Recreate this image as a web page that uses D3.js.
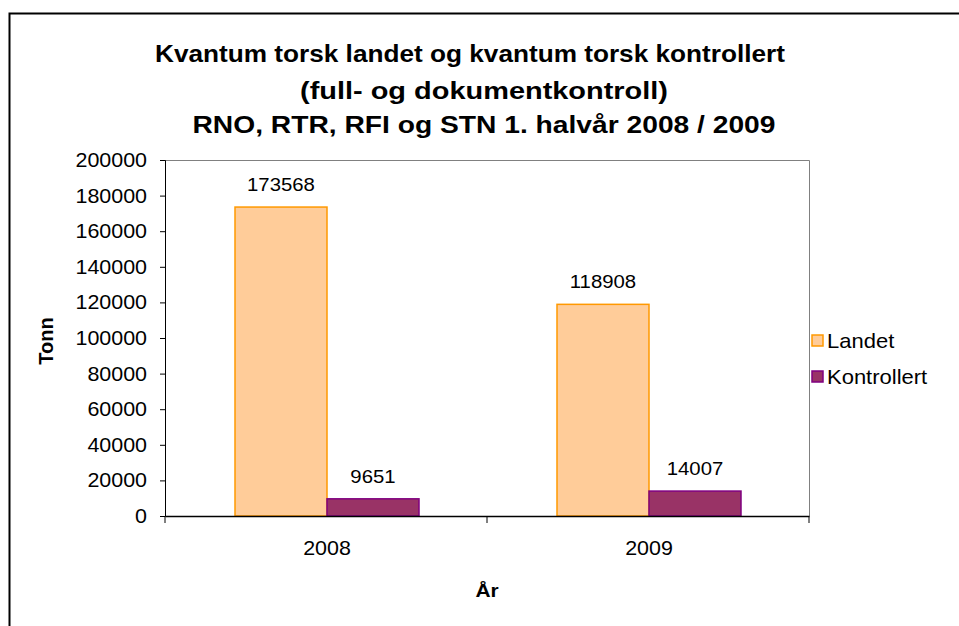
<!DOCTYPE html>
<html><head><meta charset="utf-8">
<script src="https://cdn.jsdelivr.net/npm/d3@7"></script>
<style>body{margin:0;background:#fff}svg{display:block;font-family:Arial,"Liberation Sans",sans-serif}</style>
</head><body><svg id="c" width="959" height="626"></svg>
<script>
const categories = ["2008", "2009"];
const seriesNames = ["Landet", "Kontrollert"];
const landet = [173568, 118908];
const kontrollert = [9651, 14007];
const yTicks = [0, 20000, 40000, 60000, 80000, 100000, 120000, 140000, 160000, 180000, 200000];
const titleLines = ["Kvantum torsk landet og kvantum torsk kontrollert", "(full- og dokumentkontroll)", "RNO, RTR, RFI og STN 1. halvår 2008 / 2009"];
const fills = ["#FFCC99", "#993366"];
const strokes = ["#FF9900", "#800080"];

const SX = 1.1;
function stretch(sel) {
  sel.each(function() {
    const t = d3.select(this);
    const xv = +(t.attr("x") || 0);
    t.attr("x", xv / SX).attr("transform", `scale(${SX},1)`);
  });
}

const svg = d3.select("#c");
svg.append("path").attr("d", "M9.5,626 V13.5 H959").attr("fill", "none").attr("stroke", "#000").attr("stroke-width", 2);

const L = 165, R = 809, T = 160, B = 516;
const x = d3.scaleBand().domain(categories).range([L, R]);
const y = d3.scaleLinear().domain([0, 200000]).range([B, T]);

svg.append("path").attr("d", `M${L},${T}.5 H${R}.5 V${B}`).attr("fill", "none").attr("stroke", "#808080").attr("stroke-width", 1);

const barW = 92;
const data = categories.map((c, i) => ({c, vals: [landet[i], kontrollert[i]]}));
const labels = svg.append("g");
data.forEach(d => {
  const cx = x(d.c) + x.bandwidth() / 2 + 1;
  d.vals.forEach((v, s) => {
    const x0 = cx - barW + s * barW;
    svg.append("rect").attr("x", x0).attr("y", y(v)).attr("width", barW).attr("height", B - y(v))
      .attr("fill", fills[s]).attr("stroke", strokes[s]).attr("stroke-width", 1.5);
    labels.append("text").attr("x", x0 + barW / 2).attr("y", y(v) - 16).attr("text-anchor", "middle")
      .attr("font-size", 18.5).text(v);
  });
});
stretch(labels.selectAll("text"));

const ya = svg.append("g").attr("transform", `translate(${L},0)`)
  .call(d3.axisLeft(y).tickValues(yTicks).tickSize(5).tickPadding(13).tickFormat(d3.format("d")));
ya.selectAll("text").attr("font-size", 19.5).attr("fill", "#000").attr("font-family", "Arial, Liberation Sans, sans-serif").attr("dy", "0.33em");
stretch(ya.selectAll("text"));
ya.selectAll("line,path").attr("stroke", "#000");

const xa = svg.append("g").attr("transform", `translate(0,${B})`)
  .call(d3.axisBottom(x).tickSize(0).tickPadding(25));
xa.selectAll("text").attr("font-size", 19.5).attr("fill", "#000").attr("font-family", "Arial, Liberation Sans, sans-serif");
xa.selectAll(".tick").each(function() {
  const g = d3.select(this);
  const tx = +g.attr("transform").match(/translate\(([^,]+)/)[1];
  g.attr("transform", `translate(${tx + 1},0)`);
});
stretch(xa.selectAll("text"));
xa.select("path").attr("stroke", "#000").attr("stroke-width", 1.5);
[L, x("2009"), R].forEach(px => svg.append("line").attr("x1", px).attr("x2", px).attr("y1", B).attr("y2", B + 7).attr("stroke", "#000"));

const titles = svg.append("g").attr("font-weight", "bold").attr("text-anchor", "middle");
const tPos = [[470, 62, 24, 630], [484, 99, 24, 368], [484, 133, 24, 583]];
titleLines.forEach((s, i) => {
  titles.append("text").attr("x", tPos[i][0]).attr("y", tPos[i][1]).attr("font-size", tPos[i][2])
    .attr("textLength", tPos[i][3]).attr("lengthAdjust", "spacingAndGlyphs").text(s);
});

svg.append("text").attr("transform", "translate(53,341) rotate(-90)").attr("text-anchor", "middle").attr("font-size", 20).attr("font-weight", "bold").text("Tonn");
const xt = svg.append("text").attr("x", 487).attr("y", 597).attr("text-anchor", "middle").attr("font-size", 19).attr("font-weight", "bold").text("År");
stretch(xt);

const lg = svg.append("g");
seriesNames.forEach((n, i) => {
  const ly = 341 + i * 36;
  lg.append("rect").attr("x", 812).attr("y", ly - 6).attr("width", 11).attr("height", 11).attr("fill", fills[i]).attr("stroke", strokes[i]).attr("stroke-width", 1.5);
  lg.append("text").attr("x", 827).attr("y", ly + 7).attr("font-size", 20).text(n);
});
stretch(lg.selectAll("text"));
</script></body></html>
